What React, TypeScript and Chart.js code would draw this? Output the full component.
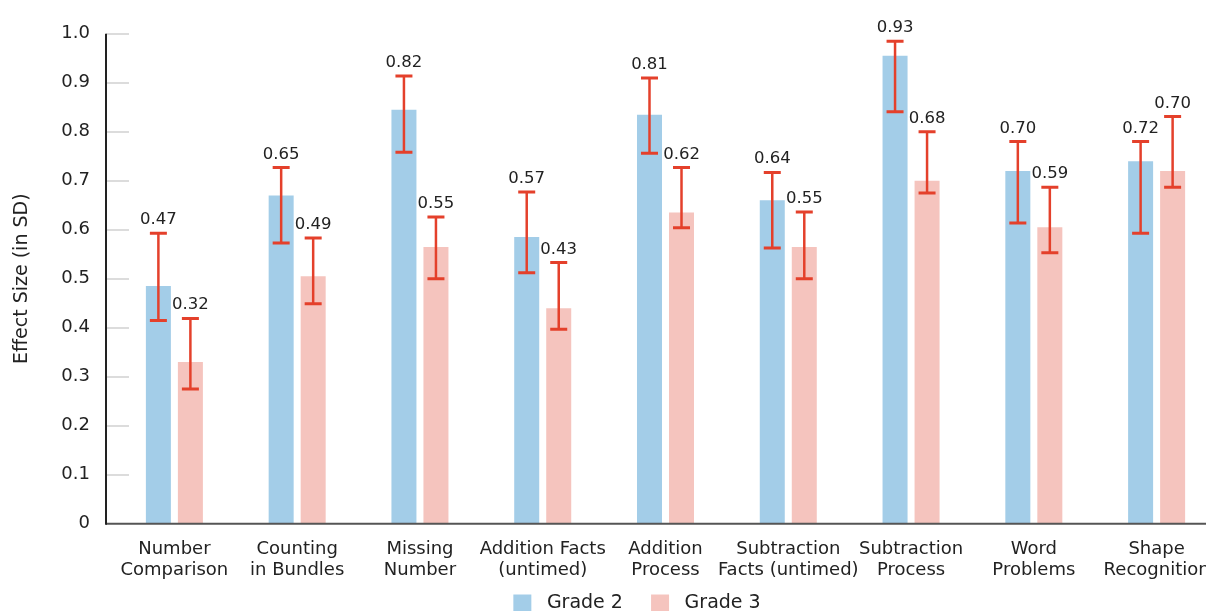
import React, { useEffect, useRef } from "react";
import { Chart, registerables } from "chart.js";

Chart.register(...registerables);

const categories: string[][] = [
  ["Number", "Comparison"],
  ["Counting", "in Bundles"],
  ["Missing", "Number"],
  ["Addition Facts", "(untimed)"],
  ["Addition", "Process"],
  ["Subtraction", "Facts (untimed)"],
  ["Subtraction", "Process"],
  ["Word", "Problems"],
  ["Shape", "Recognition"],
];

const seriesNames = ["Grade 2", "Grade 3"];

const grade2Values = [0.485, 0.67, 0.845, 0.585, 0.835, 0.66, 0.955, 0.72, 0.74];
const grade3Values = [0.33, 0.505, 0.565, 0.44, 0.635, 0.565, 0.7, 0.605, 0.72];

const grade2High = [0.593, 0.727, 0.914, 0.677, 0.91, 0.717, 0.985, 0.78, 0.78];
const grade2Low = [0.415, 0.573, 0.758, 0.512, 0.756, 0.563, 0.841, 0.614, 0.593];
const grade3High = [0.419, 0.583, 0.626, 0.533, 0.727, 0.636, 0.8, 0.687, 0.831];
const grade3Low = [0.275, 0.449, 0.5, 0.397, 0.604, 0.5, 0.675, 0.553, 0.687];

const grade2Labels = ["0.47", "0.65", "0.82", "0.57", "0.81", "0.64", "0.93", "0.70", "0.72"];
const grade3Labels = ["0.32", "0.49", "0.55", "0.43", "0.62", "0.55", "0.68", "0.59", "0.70"];

const yTicks = [0, 0.1, 0.2, 0.3, 0.4, 0.5, 0.6, 0.7, 0.8, 0.9, 1.0];

const FONT = "'DejaVu Sans', sans-serif";
const TEXT = "#222222";
const BLUE = "#a3cde8";
const PINK = "#f5c4be";
const RED = "#e4402b";

const errorBars = [
  { high: grade2High, low: grade2Low, labels: grade2Labels },
  { high: grade3High, low: grade3Low, labels: grade3Labels },
];

const decorPlugin = {
  id: "decor",
  beforeDatasetsDraw(chart: any) {
    const { ctx, chartArea, scales } = chart;
    const y = scales.y;
    const axisX = chartArea.left - 7;
    ctx.save();
    ctx.strokeStyle = "#dcdcdc";
    ctx.lineWidth = 2;
    yTicks.forEach((t) => {
      if (t === 0) return;
      const py = Math.round(y.getPixelForValue(t));
      ctx.beginPath();
      ctx.moveTo(axisX, py);
      ctx.lineTo(axisX + 23, py);
      ctx.stroke();
    });
    ctx.restore();
  },
  afterDatasetsDraw(chart: any) {
    const { ctx, chartArea, scales } = chart;
    const y = scales.y;
    const axisX = chartArea.left - 7;
    ctx.save();
    errorBars.forEach((eb, di) => {
      const meta = chart.getDatasetMeta(di);
      meta.data.forEach((bar: any, i: number) => {
        const x = bar.x;
        const yh = y.getPixelForValue(eb.high[i]);
        const yl = y.getPixelForValue(eb.low[i]);
        ctx.strokeStyle = RED;
        ctx.lineWidth = 2.5;
        ctx.beginPath();
        ctx.moveTo(x, yh);
        ctx.lineTo(x, yl);
        ctx.stroke();
        ctx.lineWidth = 3;
        ctx.beginPath();
        ctx.moveTo(x - 8.5, yh);
        ctx.lineTo(x + 8.5, yh);
        ctx.moveTo(x - 8.5, yl);
        ctx.lineTo(x + 8.5, yl);
        ctx.stroke();
        ctx.fillStyle = TEXT;
        ctx.font = "16.5px " + FONT;
        ctx.textAlign = "center";
        ctx.textBaseline = "alphabetic";
        ctx.fillText(eb.labels[i], x, yh - 9);
      });
    });
    const y0 = y.getPixelForValue(0);
    const y1 = y.getPixelForValue(1);
    ctx.strokeStyle = "#555555";
    ctx.lineWidth = 2;
    ctx.beginPath();
    ctx.moveTo(axisX, y0);
    ctx.lineTo(chart.width, y0);
    ctx.stroke();
    ctx.strokeStyle = "#222222";
    ctx.beginPath();
    ctx.moveTo(axisX, y1);
    ctx.lineTo(axisX, y0 + 1);
    ctx.stroke();
    ctx.restore();
  },
};

export default function App() {
  const canvasRef = useRef<HTMLCanvasElement | null>(null);

  useEffect(() => {
    const canvas = canvasRef.current;
    if (!canvas) return;
    const chart = new Chart(canvas, {
      type: "bar",
      data: {
        labels: categories,
        datasets: [
          {
            label: seriesNames[0],
            data: grade2Values,
            backgroundColor: BLUE,
            borderWidth: 0,
            categoryPercentage: 0.5214,
            barPercentage: 0.78125,
          },
          {
            label: seriesNames[1],
            data: grade3Values,
            backgroundColor: PINK,
            borderWidth: 0,
            categoryPercentage: 0.5214,
            barPercentage: 0.78125,
          },
        ],
      },
      options: {
        responsive: false,
        animation: false,
        devicePixelRatio: 1,
        layout: { padding: { top: 31, left: 0, right: 0, bottom: 0 } },
        plugins: {
          tooltip: { enabled: false },
          legend: {
            position: "bottom",
            labels: {
              boxWidth: 18,
              boxHeight: 18,
              padding: 10,
              color: TEXT,
              font: { family: FONT, size: 19 },
              generateLabels: (c: any) =>
                Chart.defaults.plugins.legend.labels
                  .generateLabels(c)
                  .map((l: any, i: number) => ({
                    ...l,
                    text: " " + l.text + (i === 0 ? "   " : ""),
                    lineWidth: 0,
                  })),
            },
          },
        },
        scales: {
          x: {
            type: "category",
            offset: true,
            grid: { display: false, drawTicks: false },
            border: { display: false },
            ticks: {
              color: TEXT,
              font: { family: FONT, size: 18, lineHeight: 21 / 18 },
              padding: 15,
              maxRotation: 0,
              autoSkip: false,
            },
            afterFit: (s: any) => {
              s.height = 60.3;
            },
          },
          y: {
            type: "linear",
            min: 0,
            max: 1,
            position: "left",
            grid: { display: false, drawTicks: false },
            border: { display: false },
            ticks: {
              stepSize: 0.1,
              color: TEXT,
              font: { family: FONT, size: 18 },
              padding: 23,
              callback: (v: any) => (Number(v) === 0 ? "0" : Number(v).toFixed(1)),
            },
            title: {
              display: true,
              text: "Effect Size (in SD)",
              color: TEXT,
              font: { family: FONT, size: 19 },
              padding: { top: 10.6, bottom: 0 },
            },
            afterFit: (s: any) => {
              s.width = 113;
            },
          },
          y2: {
            type: "linear",
            position: "right",
            display: true,
            grid: { display: false, drawTicks: false },
            border: { display: false },
            ticks: { display: false },
            afterFit: (s: any) => {
              s.width = 56;
            },
          },
        },
      },
      plugins: [decorPlugin],
    } as any);
    return () => chart.destroy();
  }, []);

  return (
    <div
      style={{
        position: "absolute",
        left: 0,
        top: 0,
        width: 1206,
        height: 611,
        overflow: "hidden",
        background: "#ffffff",
      }}
    >
      <canvas ref={canvasRef} width={1274} height={623} style={{ display: "block" }} />
    </div>
  );
}
